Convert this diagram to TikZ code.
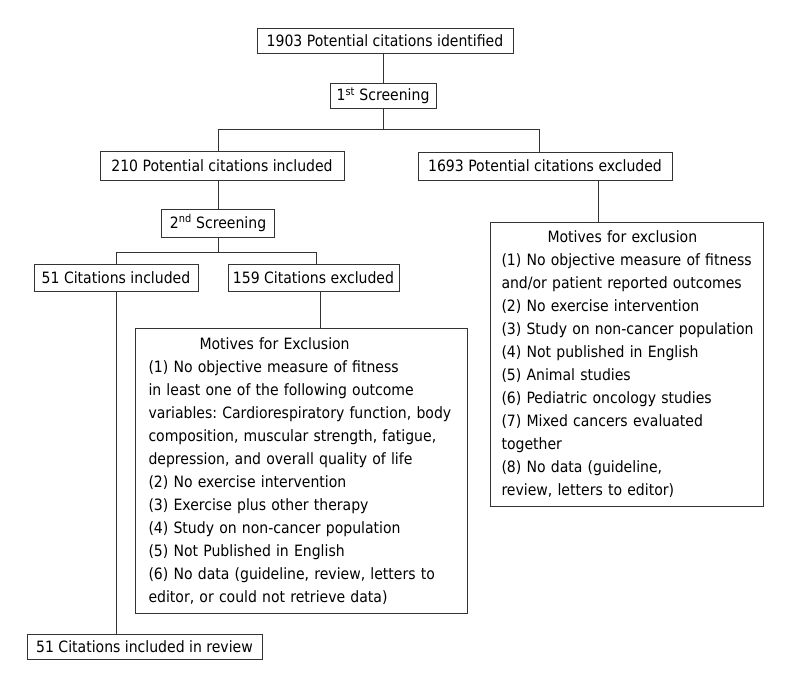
\documentclass[tikz,border=0pt]{standalone}
\usepackage{fontspec}
\setmainfont{DejaVu Sans Condensed}
\frenchspacing
\newcommand\fsz{\fontsize{15.6}{23}\selectfont}
\begin{document}
\begin{tikzpicture}[x=1pt,y=-1pt,
  box/.style={draw=black!80, line width=1pt, inner sep=0pt, font=\fsz, anchor=center},
  mot/.style={draw=black!80, line width=1pt, anchor=north west, inner ysep=7.5pt, align=left, font=\fsz},
  conn/.style={draw=black!80, line width=1pt}]
\useasboundingbox (0,0) rectangle (800,678);
\fill[white] (0,0) rectangle (800,678);

\node[box, minimum width=256pt, minimum height=25pt] (b1) at (385,40.5) {1903 Potential citations identified};
\node[box, minimum width=106pt, minimum height=25pt] (s1) at (383,95.5) {1\textsuperscript{st} Screening};
\node[box, minimum width=244pt, minimum height=29pt] (inc210) at (222,165.5) {210 Potential citations included};
\node[box, minimum width=254pt, minimum height=28pt] (exc1693) at (545,166) {1693 Potential citations excluded};
\node[box, minimum width=113pt, minimum height=28pt] (s2) at (218,223) {2\textsuperscript{nd} Screening};
\node[box, minimum width=164pt, minimum height=27pt] (inc51) at (116,277.5) {51 Citations included};
\node[box, minimum width=171pt, minimum height=27pt] (exc159) at (313.5,277.5) {159 Citations excluded};
\node[box, minimum width=235pt, minimum height=25pt] (final) at (144.5,646.5) {51 Citations included in review};

\node[mot, inner xsep=13pt, text width=306pt, minimum height=285pt] (mot1) at (135,328) {%
\hspace*{51pt}Motives for Exclusion\\
(1) No objective measure of fitness\\
in least one of the following outcome\\
\mbox{variables: Cardiorespiratory function, body}\\
composition, muscular strength, fatigue,\\
depression, and overall quality of life\\
(2) No exercise intervention\\
(3) Exercise plus other therapy\\
(4) Study on non-cancer population\\
(5) Not Published in English\\
(6) No data (guideline, review, letters to\\
editor, or could not retrieve data)};

\node[mot, inner xsep=11pt, text width=251pt, minimum height=284pt] (mot2) at (490,222) {%
\hspace*{46pt}Motives for exclusion\\
(1) No objective measure of fitness\\
and/or patient reported outcomes\\
(2) No exercise intervention\\
\mbox{(3) Study on non-cancer population}\\
(4) Not published in English\\
(5) Animal studies\\
(6) Pediatric oncology studies\\
(7) Mixed cancers evaluated\\
together\\
(8) No data (guideline,\\
review, letters to editor)};

% connectors
\coordinate (j1) at (383,129);
\coordinate (jL) at (218,129);
\coordinate (jR) at (539,129);
\draw[conn] (b1.south -| s1.north) -- (s1.north);
\draw[conn] (s1.south) -- (j1);
\draw[conn] (jL |- inc210.north) -- (jL) -- (jR) -- (jR |- exc1693.north);

\coordinate (j2) at (218,252);
\coordinate (kL) at (116,252);
\coordinate (kR) at (316,252);
\draw[conn] (inc210.south -| s2.north) -- (s2.north);
\draw[conn] (s2.south) -- (j2);
\draw[conn] (kL |- inc51.north) -- (kL) -- (kR) -- (kR |- exc159.north);

\coordinate (m1) at (320,291);
\draw[conn] (exc159.south -| m1) -- (m1 |- mot1.north);
\coordinate (m2) at (598,180);
\draw[conn] (exc1693.south -| m2) -- (m2 |- mot2.north);
\draw[conn] (inc51.south) -- (final.north -| inc51.south);
\end{tikzpicture}
\end{document}
